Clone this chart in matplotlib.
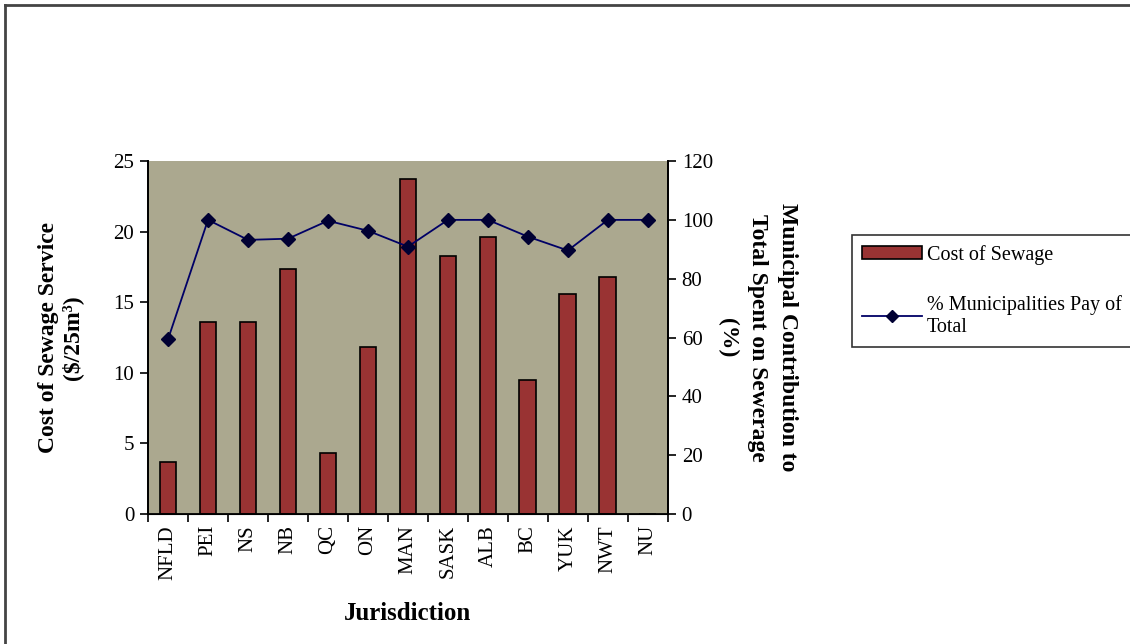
import matplotlib
matplotlib.use("Agg")
import matplotlib.pyplot as plt
import numpy as np
from matplotlib.patches import Patch
from matplotlib.lines import Line2D

plt.rcParams['font.family'] = ['Liberation Serif', 'DejaVu Serif']

jurisdictions = ["NFLD", "PEI", "NS", "NB", "QC", "ON", "MAN", "SASK", "ALB", "BC", "YUK", "NWT", "NU"]
cost_sewage = [3.7, 13.6, 13.6, 17.35, 4.3, 11.8, 23.7, 18.3, 19.6, 9.5, 15.6, 16.8, 0.0]
pct_municipal = [59.4, 100, 93.2, 93.6, 99.7, 96.3, 90.9, 100, 100, 94.3, 89.6, 100, 100]

fig = plt.figure(figsize=(11.3, 6.44), dpi=100)
ax = fig.add_axes([0.131, 0.2019, 0.46, 0.548])
ax.set_facecolor("#ABA88F")

x = np.arange(len(jurisdictions))
ax.bar(x, cost_sewage, width=0.42, color="#993333", edgecolor="black", linewidth=1.2, zorder=2)
ax.set_xlim(-0.5, len(jurisdictions) - 0.5)
ax.set_ylim(0, 25)
ax.set_yticks([0, 5, 10, 15, 20, 25])
ax.set_xticks(x)
ax.set_xticklabels(jurisdictions, rotation=90, fontsize=15)
ax.tick_params(axis='x', length=0, pad=8)
ax.set_xticks(np.arange(-0.5, len(jurisdictions)), minor=True)
ax.tick_params(axis='x', which='minor', length=6, width=1.2, direction='out')
ax.tick_params(axis='y', length=6, width=1.2, direction='out', labelsize=15, pad=4)
for side in ['left', 'bottom', 'right']:
    ax.spines[side].set_linewidth(1.3)
ax.spines['top'].set_visible(False)

ax2 = ax.twinx()
ax2.plot(x, pct_municipal, color="#000066", linewidth=1.3, marker='D', markersize=7,
         markerfacecolor="#000033", markeredgecolor="#000033", zorder=3)
ax2.set_ylim(0, 120)
ax2.set_yticks([0, 20, 40, 60, 80, 100, 120])
ax2.tick_params(axis='y', length=6, width=1.2, direction='out', labelsize=15, pad=4)
ax2.spines['right'].set_linewidth(1.3)
ax2.spines['top'].set_visible(False)
ax2.spines['left'].set_linewidth(1.3)

ax.set_xlabel("Jurisdiction", fontsize=18, fontweight='bold', labelpad=16)
ax.set_ylabel("Cost of Sewage Service\n($/25m³)", fontsize=17, fontweight='bold',
              labelpad=22, linespacing=1.1)
ax2.set_ylabel("Municipal Contribution to\nTotal Spent on Sewerage\n(%)", fontsize=17,
               fontweight='bold', rotation=-90, labelpad=61, linespacing=1.55)

handles = [Patch(facecolor="#993333", edgecolor="black", linewidth=1.2),
           Line2D([0], [0], color="#000066", linewidth=1.3, marker='D', markersize=6,
                  markerfacecolor="#000033", markeredgecolor="#000033")]
labels = ["Cost of Sewage", "% Municipalities Pay of\nTotal"]
leg = fig.legend(handles, labels, loc='upper left', bbox_to_anchor=(852 / 1130, 1 - 235 / 644),
                 frameon=True, fancybox=False, edgecolor='black', fontsize=14.5,
                 handlelength=3.0, handleheight=0.6, borderpad=0.5, labelspacing=1.5,
                 handletextpad=0.2, borderaxespad=0)
leg.get_frame().set_linewidth(1.2)

# top and left frame of the drawing area
fig.add_artist(Line2D([5 / 1130, 1], [1 - 5 / 644, 1 - 5 / 644], transform=fig.transFigure,
                      color="#444444", linewidth=2))
fig.add_artist(Line2D([5 / 1130, 5 / 1130], [0, 1 - 5 / 644], transform=fig.transFigure,
                      color="#444444", linewidth=2))

fig.savefig("out.png", dpi=100)
